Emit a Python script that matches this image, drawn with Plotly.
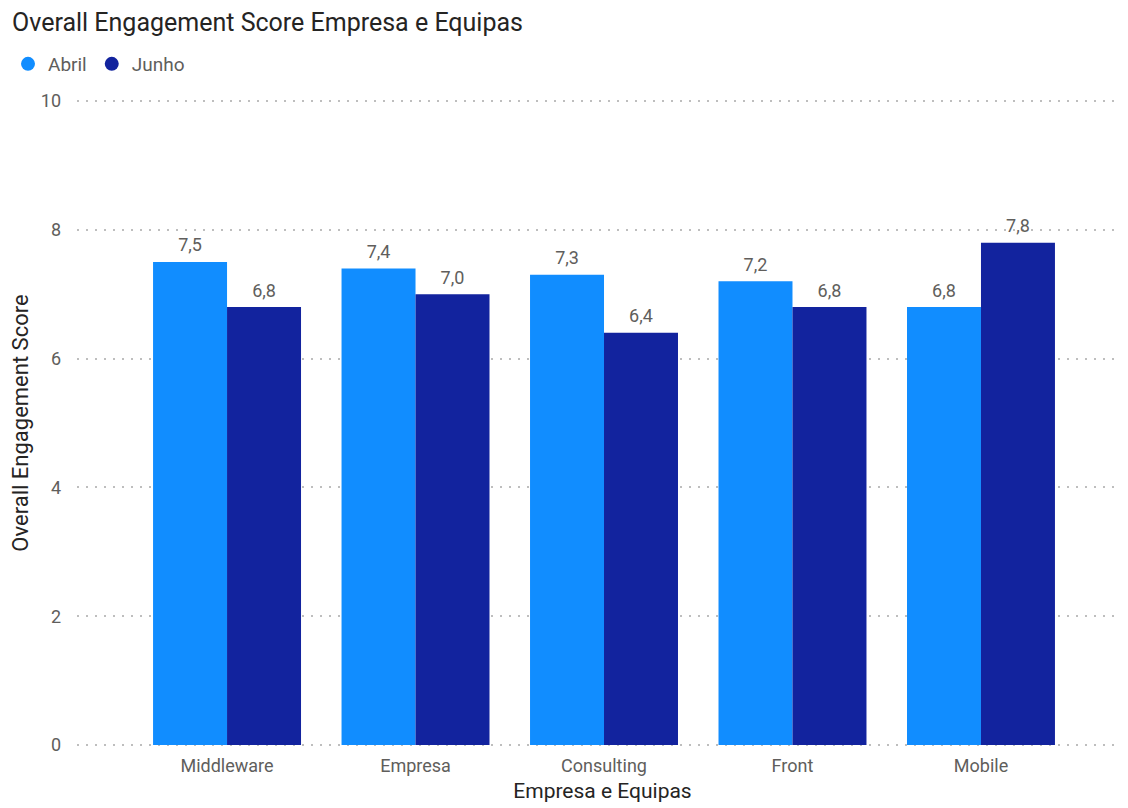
import plotly.graph_objects as go

categories = ["Middleware", "Empresa", "Consulting", "Front", "Mobile"]
abril = [7.5, 7.4, 7.3, 7.2, 6.8]
junho = [6.8, 7.0, 6.4, 6.8, 7.8]
series_names = ["Abril", "Junho"]
colors = ["#118DFF", "#12239E"]
y_ticks = [0, 2, 4, 6, 8, 10]

FONT = "Roboto"
W, H = 1120, 800

fig = go.Figure()
for name, vals, col in zip(series_names, [abril, junho], colors):
    fig.add_trace(go.Bar(
        x=categories, y=vals, name=name, marker_color=col,
        marker_line_width=0,
        texttemplate="<span style='font-size:18px'>%{y:.1f}</span><br> ",
        textposition="outside",
        textfont=dict(family=FONT, size=5, color="#605E5C"),
        cliponaxis=False, showlegend=False,
    ))
    fig.add_trace(go.Scatter(
        x=[None], y=[None], mode="markers", name=name,
        marker=dict(symbol="circle", size=14, color=col),
        showlegend=True,
    ))

fig.update_layout(
    width=W, height=H,
    separators=",.",
    paper_bgcolor="white", plot_bgcolor="white",
    barmode="group", bargap=0.215, bargroupgap=0,
    margin=dict(l=69, r=0, t=91, b=61),
    title=dict(text="Overall Engagement Score Empresa e Equipas",
               font=dict(family=FONT, size=25, color="#252423"),
               xref="container", x=4 / W, xanchor="left",
               yref="container", y=1 - 14 / H, yanchor="middle"),
    legend=dict(orientation="h", xref="container", yref="container",
                x=0, xanchor="left", y=1 - 56 / H, yanchor="middle",
                font=dict(family=FONT, size=19, color="#605E5C"),
                itemwidth=30, tracegroupgap=0,
                traceorder="normal", bgcolor="rgba(0,0,0,0)"),
    font=dict(family=FONT),
)

fig.update_xaxes(
    type="category", range=[-0.796, 4.78],
    showgrid=False, showline=False, zeroline=False, ticks="",
    tickfont=dict(family=FONT, size=18, color="#605E5C"),
    ticklabelstandoff=6,
    title=dict(text="Empresa e Equipas", standoff=8,
               font=dict(family=FONT, size=21, color="#252423")),
)
fig.update_yaxes(
    range=[-0.03, 10.03], tickvals=y_ticks,
    showgrid=True, gridcolor="#BEBEBE", griddash="2px,7px", gridwidth=1.5,
    zeroline=False, showline=False, ticks="",
    tickfont=dict(family=FONT, size=18, color="#605E5C"),
    ticklabelstandoff=15,
    title=dict(text="Overall Engagement Score", standoff=9,
               font=dict(family=FONT, size=22, color="#252423")),
)

fig.write_html("out.html")
